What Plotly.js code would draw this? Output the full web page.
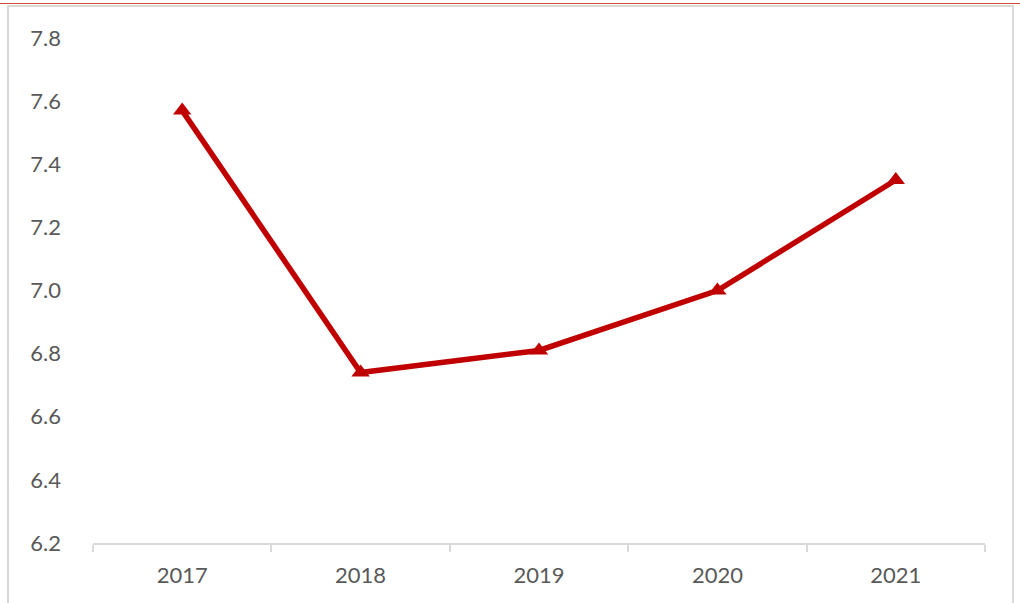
<!DOCTYPE html>
<html>
<head>
<meta charset="utf-8">
<script src="https://cdn.plot.ly/plotly-3.0.1.min.js"></script>
<style>
  html, body { margin: 0; padding: 0; background: #fff; }
  #wrap { position: relative; width: 1020px; height: 603px; overflow: hidden; }
  #chart { position: absolute; left: 0; top: 0; width: 1020px; height: 603px; }
  #redline { position: absolute; left: 0; top: 3px; width: 1020px; height: 1px; background: #d04a4a; }
  #frame { position: absolute; left: 7px; top: 5px; width: 1007px; height: 620px; border: 2px solid #d9d9d9; box-sizing: border-box; pointer-events: none; }
</style>
</head>
<body>
<div id="wrap">
  <div id="chart"></div>
  <div id="redline"></div>
  <div id="frame"></div>
</div>
<script>
const years = ["2017", "2018", "2019", "2020", "2021"];
const values = [7.57, 6.74, 6.81, 7.00, 7.35];
const yTicks = [6.2, 6.4, 6.6, 6.8, 7.0, 7.2, 7.4, 7.6, 7.8];
const yTickLabels = ["6.2", "6.4", "6.6", "6.8", "7.0", "7.2", "7.4", "7.6", "7.8"];

const trace = {
  x: years,
  y: values,
  type: "scatter",
  mode: "lines+markers",
  line: { color: "#C00000", width: 5.5 },
  marker: { symbol: "triangle-up", size: 16, color: "#C00000" },
  hoverinfo: "x+y"
};

const layout = {
  width: 1020,
  height: 603,
  margin: { l: 93, r: 35, t: 38, b: 60 },
  paper_bgcolor: "#ffffff",
  plot_bgcolor: "#ffffff",
  showlegend: false,
  font: { family: "Lato, 'Open Sans', sans-serif", size: 22, color: "#595959" },
  xaxis: {
    type: "category",
    range: [-0.5, 4.5],
    showgrid: false,
    zeroline: false,
    showline: true,
    linecolor: "#d9d9d9",
    linewidth: 2,
    ticks: "outside",
    tickson: "boundaries",
    ticklen: 7,
    tickwidth: 2,
    tickcolor: "#d9d9d9",
    ticklabelstandoff: 12,
    tickfont: { size: 22, color: "#595959" },
    fixedrange: true
  },
  yaxis: {
    range: [6.2, 7.8],
    tickvals: yTicks,
    ticktext: yTickLabels,
    showgrid: false,
    zeroline: false,
    showline: false,
    ticks: "",
    ticklabelstandoff: 31,
    tickfont: { size: 22, color: "#595959" },
    fixedrange: true
  }
};

Plotly.newPlot("chart", [trace], layout, { staticPlot: true, displayModeBar: false });
</script>
</body>
</html>
